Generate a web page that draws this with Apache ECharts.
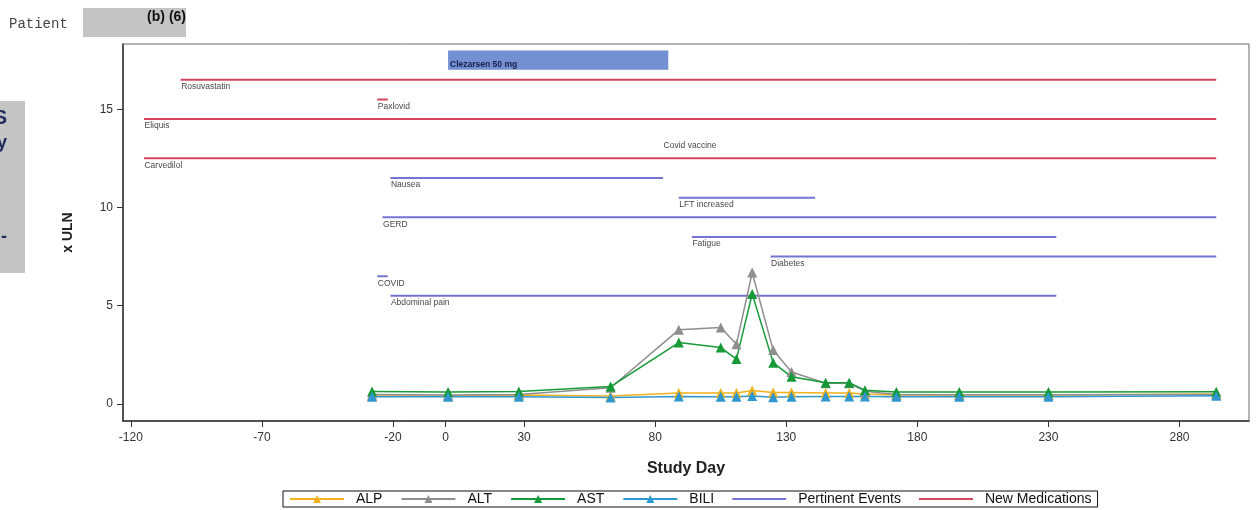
<!DOCTYPE html>
<html>
<head>
<meta charset="utf-8">
<script src="https://cdn.jsdelivr.net/npm/echarts@6/dist/echarts.min.js"></script>
<style>
  html, body { margin: 0; padding: 0; background: #ffffff; }
  #chart { width: 1257px; height: 510px; }
</style>
</head>
<body>
<div id="chart"></div>
<script>
// Liver lab values (x ULN) by study day
const labDays    = [-28, 1, 28, 63, 89, 105, 111, 117, 125, 132, 145, 154, 160, 172, 196, 230, 294];
const alpValues  = [0.40, 0.40, 0.45, 0.40, 0.55, 0.55, 0.55, 0.68, 0.58, 0.58, 0.55, 0.55, 0.50, 0.45, 0.45, 0.45, 0.50];
const altValues  = [0.48, 0.45, 0.48, 0.82, 3.77, 3.89, 3.04, 6.69, 2.74, 1.62, 1.05, 1.05, 0.65, 0.48, 0.47, 0.46, 0.48];
const astValues  = [0.63, 0.60, 0.63, 0.88, 3.12, 2.87, 2.28, 5.60, 2.10, 1.38, 1.08, 1.08, 0.70, 0.60, 0.60, 0.60, 0.62];
const biliValues = [0.36, 0.37, 0.37, 0.33, 0.38, 0.37, 0.37, 0.40, 0.34, 0.36, 0.38, 0.38, 0.38, 0.37, 0.37, 0.37, 0.42];

// Study drug exposure
const doseName  = 'Clezarsen 50 mg';
const doseStart = 1;
const doseEnd   = 85;
const doseRow   = 17.5;

// Concomitant medications started
const medNames = ['Rosuvastatin', 'Paxlovid', 'Eliquis', 'Covid vaccine', 'Carvedilol'];
const medStart = [-101, -26, -115, 83, -115];
const medEnd   = [294, -22, 294, 83, 294];
const medRow   = [16.5, 15.5, 14.5, 13.5, 12.5];

// Pertinent adverse events
const eventNames = ['Nausea', 'LFT increased', 'GERD', 'Fatigue', 'Diabetes', 'COVID', 'Abdominal pain'];
const eventStart = [-21, 89, -24, 94, 124, -26, -21];
const eventEnd   = [83, 141, 294, 233, 294, -22, 233];
const eventRow   = [11.5, 10.5, 9.5, 8.5, 7.5, 6.5, 5.5];

// Axis ticks
const xTicks = [-120, -70, -20, 0, 30, 80, 130, 180, 230, 280];
const yTicks = [0, 5, 10, 15];

const FONT = 'Liberation Sans, Arial, sans-serif';
// plain horizontal stroke used as the legend icon of the segment series
const LINE_ICON = 'path://M0,4.1 L54,4.1 L54,5.9 L0,5.9 Z';

function pairs(xs, ys) {
  return xs.map((x, i) => [x, ys[i]]);
}

// Horizontal segments joined into one broken line
function segments(starts, ends, rows) {
  const out = [];
  starts.forEach((s, i) => {
    out.push([s, rows[i]], [ends[i], rows[i]], ['-', '-']);
  });
  return out;
}

function segmentLabels(names, starts, rows) {
  return names.map((n, i) => ({ value: [starts[i], rows[i]], name: n }));
}

function labSeries(name, values, color) {
  return {
    name: name,
    type: 'line',
    data: pairs(labDays, values),
    symbol: 'triangle',
    symbolSize: 10,
    lineStyle: { color: color, width: 1.5 },
    itemStyle: { color: color },
    z: 5
  };
}

const chart = echarts.init(document.getElementById('chart'), null, { renderer: 'canvas' });

chart.setOption({
  animation: false,
  backgroundColor: '#ffffff',
  textStyle: { fontFamily: FONT },
  grid: {
    left: 123, right: 8, top: 44, bottom: 89,
    show: true, borderColor: '#6a6a6a', borderWidth: 1, backgroundColor: 'transparent'
  },
  xAxis: {
    type: 'value',
    min: -123, max: 306.5,
    name: 'Study Day',
    nameLocation: 'middle',
    nameGap: 40,
    nameTextStyle: { fontFamily: FONT, fontSize: 16, fontWeight: 'bold', color: '#222' },
    axisLine: { show: true, onZero: false, lineStyle: { color: '#333', width: 1.5 } },
    axisTick: { show: true, length: 6, customValues: xTicks, lineStyle: { color: '#333' } },
    axisLabel: { customValues: xTicks, fontFamily: FONT, fontSize: 12, color: '#333', margin: 11 },
    splitLine: { show: false }
  },
  yAxis: {
    type: 'value',
    min: -0.87, max: 18.32,
    name: 'x ULN',
    nameLocation: 'middle',
    nameGap: 48,
    nameTextStyle: { fontFamily: FONT, fontSize: 14, fontWeight: 'bold', color: '#222' },
    axisLine: { show: true, onZero: false, lineStyle: { color: '#333', width: 1.5 } },
    axisTick: { show: true, length: 6, customValues: yTicks, lineStyle: { color: '#333' } },
    axisLabel: { customValues: yTicks, fontFamily: FONT, fontSize: 12, color: '#333', margin: 10 },
    splitLine: { show: false }
  },
  legend: {
    data: ['ALP', 'ALT', 'AST', 'BILI',
           { name: 'Pertinent Events', icon: LINE_ICON },
           { name: 'New Medications', icon: LINE_ICON }],
    left: 283, top: 491,
    itemWidth: 54, itemHeight: 10, itemGap: 18,
    padding: [1, 6, 1, 6],
    borderColor: '#111', borderWidth: 1,
    textStyle: { fontFamily: FONT, fontSize: 14, color: '#111', padding: [0, 0, 0, 7] }
  },
  series: [
    {
      name: 'Clezarsen',
      type: 'custom',
      data: [[doseStart, doseEnd, doseRow, doseName]],
      encode: { x: [0, 1], y: 2 },
      renderItem: function (params, api) {
        const p0 = api.coord([api.value(0), api.value(2)]);
        const p1 = api.coord([api.value(1), api.value(2)]);
        const h = api.size([0, 0.98])[1];
        return {
          type: 'group',
          children: [
            { type: 'rect',
              shape: { x: p0[0], y: p0[1] - h / 2, width: p1[0] - p0[0], height: h },
              style: { fill: '#7290d2' } },
            { type: 'text',
              style: { text: doseName, x: p0[0] + 2, y: p0[1] + 5, verticalAlign: 'middle',
                       font: 'bold 8.5px ' + FONT, fill: '#15204a' } }
          ]
        };
      },
      z: 2
    },
    {
      name: 'New Medications',
      type: 'line',
      data: segments(medStart, medEnd, medRow),
      symbol: 'none',
      connectNulls: false,
      lineStyle: { color: '#d3455e', width: 2 },
      itemStyle: { color: '#d3455e' },
      z: 2
    },
    {
      name: 'Pertinent Events',
      type: 'line',
      data: segments(eventStart, eventEnd, eventRow),
      symbol: 'none',
      connectNulls: false,
      lineStyle: { color: '#7474d2', width: 2 },
      itemStyle: { color: '#7474d2' },
      z: 2
    },
    {
      name: 'labels',
      type: 'scatter',
      data: segmentLabels(medNames, medStart, medRow).concat(segmentLabels(eventNames, eventStart, eventRow)),
      symbol: 'circle',
      symbolSize: 1,
      itemStyle: { color: 'transparent' },
      silent: true,
      label: {
        show: true,
        position: [1, 3],
        formatter: p => p.name,
        fontFamily: FONT,
        fontSize: 8.5,
        color: '#111'
      },
      z: 3
    },
    labSeries('ALP', alpValues, '#f2b11f'),
    labSeries('ALT', altValues, '#8e8e8e'),
    labSeries('AST', astValues, '#159a37'),
    labSeries('BILI', biliValues, '#2f97cf')
  ],
  graphic: [
    { type: 'text', left: 9, top: 17,
      style: { text: 'Patient', font: '14px "Liberation Mono", "DejaVu Sans Mono", monospace', fill: '#444' } },
    { type: 'rect', shape: { x: 83, y: 8, width: 103, height: 29 }, style: { fill: '#c4c4c4' } },
    { type: 'text', right: 1257 - 186, top: 10,
      style: { text: '(b) (6)', font: 'bold 14px ' + FONT, fill: '#111', align: 'right' } },
    { type: 'rect', shape: { x: 0, y: 101, width: 25, height: 172 }, style: { fill: '#c4c4c4' } },
    { type: 'text', x: 7, y: 108,
      style: { text: 'S', font: 'bold 20px ' + FONT, fill: '#1d2a5a', align: 'right' } },
    { type: 'text', x: 7, y: 134,
      style: { text: 'y', font: 'bold 18px ' + FONT, fill: '#1d2a5a', align: 'right' } },
    { type: 'text', x: 7, y: 228,
      style: { text: '-', font: 'bold 18px ' + FONT, fill: '#1d2a5a', align: 'right' } }
  ]
});
</script>
</body>
</html>
